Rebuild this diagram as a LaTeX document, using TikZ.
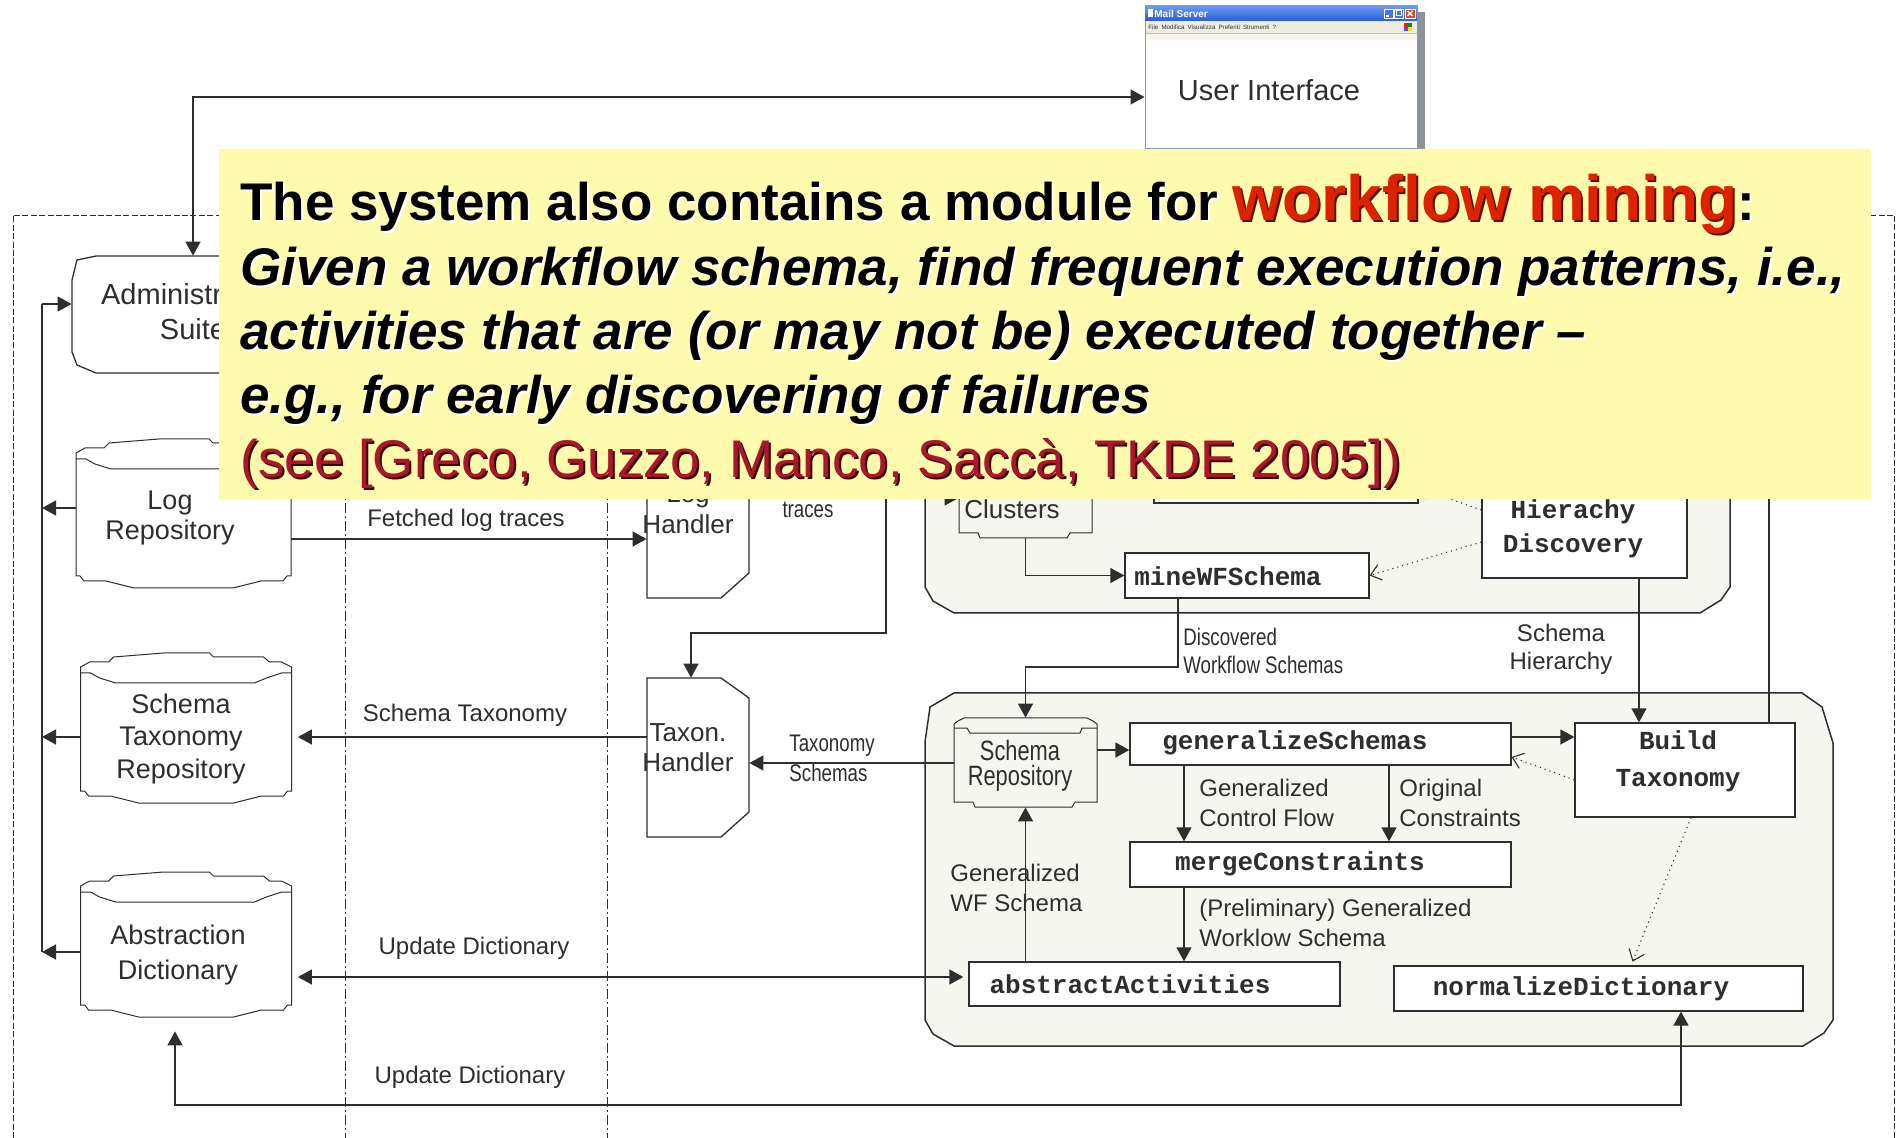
\documentclass[tikz,border=0pt]{standalone}
\usepackage{fontspec}
\setmainfont{Liberation Sans}
\newfontfamily\narrowsans[FakeStretch=0.78]{Liberation Sans}
\newfontfamily\codefont{Liberation Mono}
\usetikzlibrary{arrows.meta,fit,calc}

\definecolor{ink}{HTML}{2E2E2E}
\definecolor{panel}{HTML}{F6F6F1}
\definecolor{note}{HTML}{FFFBAE}
\definecolor{hot}{HTML}{DD2200}
\definecolor{hotshade}{HTML}{5A1000}
\definecolor{cite}{HTML}{A8182A}
\definecolor{citeshade}{HTML}{3A0008}
\definecolor{xpblue}{HTML}{2A5CD6}
\definecolor{xplight}{HTML}{6A9AF2}
\definecolor{xpbeige}{HTML}{EEEBDF}
\definecolor{xpframe}{HTML}{7F9DB9}
\definecolor{xpred}{HTML}{DD4A22}
\definecolor{winshadow}{HTML}{8E939B}

% stored-data shape with a tall cap (repositories on the left)
\newcommand\bigstore[5]{%
  \path[draw=ink, line width=0.5pt, fill=white]
    ({#2},{#3+14}) -- ({#2+9},{#3+9}) -- ({#2+28},{#3+9}) -- ({#2+33},{#3+4})
    -- ({#2+83},{#3}) -- ({#4-82},{#3}) -- ({#4-78},{#3+4}) -- ({#4-28},{#3+4})
    -- ({#4-22},{#3+9}) -- ({#4-10},{#3+9}) -- ({#4},{#3+14})
    -- ({#4},{#5-12}) -- ({#4-4},{#5-12}) -- ({#4-8},{#5-7}) -- ({#4-30},{#5-7})
    -- ({#4-58},{#5}) -- ({#2+58},{#5}) -- ({#2+30},{#5-7}) -- ({#2+8},{#5-7})
    -- ({#2+4},{#5-12}) -- ({#2},{#5-12}) -- cycle;
  \draw[ink, line width=0.5pt] ({#2},{#3+20}) -- ({#2+10},{#3+20}) -- ({#2+19},{#3+25})
    -- ({#2+35},{#3+30}) -- ({#4-37},{#3+30}) -- ({#4-25},{#3+25}) -- ({#4-10},{#3+20}) -- ({#4},{#3+20});
  \node[fit={({#2},{#3}) ({#4},{#5})}, inner sep=0pt] (#1) {};}

% stored-data shape with a flat cap (repositories inside the modules)
\newcommand\smallstore[5]{%
  \path[draw=ink, line width=0.5pt, fill=panel]
    ({#2},{#3+6}) -- ({#2+4},{#3+3}) -- ({#2+10},{#3}) -- ({#4-10},{#3}) -- ({#4-4},{#3+3})
    -- ({#4},{#3+6}) -- ({#4},{#5-5}) -- ({#4-22},{#5-5}) -- ({#4-25},{#5})
    -- ({#2+21},{#5}) -- ({#2+19},{#5-5}) -- ({#2},{#5-5}) -- cycle;
  \draw[ink, line width=0.5pt] ({#2},{#3+10}) -- ({#2+13},{#3+10}) -- ({#2+16},{#3+15})
    -- ({#4-17},{#3+15}) -- ({#4-15},{#3+10}) -- ({#4},{#3+10});
  \node[fit={({#2},{#3}) ({#4},{#5})}, inner sep=0pt] (#1) {};}

% handler shape: rectangle with the right corners cut
\newcommand\handler[5]{%
  \path[draw=ink, line width=0.65pt, fill=white]
    ({#2},{#3}) -- ({#4-28},{#3}) -- ({#4},{#3+20}) -- ({#4},{#5-25})
    -- ({#4-28},{#5}) -- ({#2},{#5}) -- cycle;
  \node[fit={({#2},{#3}) ({#4},{#5})}, inner sep=0pt] (#1) {};}

% module container with clipped corners
\newcommand\module[4]{%
  \path[draw=ink, line width=0.75pt, fill=panel]
    ({#1+29},{#2}) -- ({#3-31},{#2}) -- ({#3-11},{#2+14}) -- ({#3},{#2+50})
    -- ({#3},{#4-26}) -- ({#3-9},{#4-13}) -- ({#3-30},{#4}) -- ({#1+29},{#4})
    -- ({#1+8},{#4-12}) -- ({#1},{#4-26}) -- ({#1},{#2+49}) -- ({#1+5},{#2+14}) -- cycle;}

\newcommand\lineone[2]{\textcolor{#1}{The system also contains a module for }%
  \textcolor{#2}{\fontsize{32}{38}\selectfont workflow mining}\textcolor{#1}{:}}

\begin{document}
\begin{tikzpicture}[x=0.5pt, y=-0.5pt,
  >={Triangle[length=7pt,width=7.5pt]},
  wire/.style={draw=ink, line width=0.65pt},
  arr/.style={wire, ->},
  both/.style={wire, <->},
  dots/.style={draw=ink, line width=0.55pt, dotted, -{Straight Barb[length=5pt,width=8pt]}},
  frame/.style={draw=ink, line width=0.45pt, dash pattern=on 3pt off 1.2pt},
  lane/.style={draw=ink, line width=0.45pt, dash pattern=on 5pt off 1.5pt on 1pt off 1.5pt},
  box/.style={draw=ink, line width=0.65pt, fill=white, inner sep=0pt},
  lbl/.style={text=ink, inner sep=0pt, align=center, font=\fontsize{12}{15}\selectfont},
  lbln/.style={text=ink, inner sep=0pt, align=center, font=\narrowsans\fontsize{12}{14}\selectfont},
  storetxt/.style={text=ink, inner sep=0pt, align=center, font=\fontsize{13.5}{15}\selectfont},
  codetxt/.style={text=ink, inner sep=0pt, align=center, font=\codefont\bfseries\fontsize{13}{17}\selectfont},
  notetxt/.style={inner sep=0pt, anchor=base west, font=\bfseries\fontsize{26.5}{32}\selectfont},
]
\useasboundingbox (0,0) rectangle (1896,1138);
\fill[white] (0,0) rectangle (1896,1138);

% system boundary and lanes
\draw[frame] (13,1138) -- (13,215) -- (1894.5,215) -- (1894.5,1138);
\draw[lane] (345,215) -- (345,1138);
\draw[lane] (607,215) -- (607,1138);

% administration suite
\path[draw=ink, line width=0.65pt, fill=white]
  (96,256) -- (290,256) -- (309,260) -- (314,280) -- (314,352) -- (309,365)
  -- (290,373) -- (96,373) -- (77,365) -- (72,352) -- (72,280) -- (77,260) -- cycle;
\node[fit={(72,256) (314,373)}, inner sep=0pt] (admin) {};
\node[storetxt, font=\fontsize{14.5}{17.5}\selectfont] (admintxt) at (193,312) {Administration\\Suite};

% repositories
\bigstore{logrepo}{76}{439}{291}{588}
\bigstore{schematax}{80.6}{653}{291.5}{803}
\bigstore{abstractdict}{80.6}{872}{291.5}{1017}
\node[storetxt] (logrepotxt) at (170,518) {Log\\Repository};
\node[storetxt, font=\fontsize{13.5}{16.25}\selectfont] (schtaxtxt) at (181,739) {Schema\\Taxonomy\\Repository};
\node[storetxt, font=\fontsize{13.5}{17.5}\selectfont] (abdicttxt) at (178,955) {Abstraction\\Dictionary};

% handlers
\handler{loghandler}{647}{439}{749}{598}
\handler{taxhandler}{647}{678}{749}{837}
\node[storetxt, font=\fontsize{13}{15.5}\selectfont] (loghtxt) at (688,509.5) {Log\\Handler};
\node[storetxt, font=\fontsize{13}{15}\selectfont] (taxhtxt) at (688,748) {Taxon.\\Handler};

% schema discovery module
\module{925}{380}{1730}{613}
\smallstore{clusters}{959}{440}{1092}{538}
\node[storetxt, font=\fontsize{13}{15}\selectfont] (clustxt) at (1012,509) {Clusters};
\node[box, fit={(1154,430) (1418,503)}] (topbox) {};
\node[box, fit={(1482,430) (1687,578)}] (hier) {};
\node[box, fit={(1125,553) (1369,598)}] (mine) {};
\node[codetxt] (hiertxt) at (1573,529) {Hierachy\\Discovery};
\node[codetxt] (minetxt) at (1228,576) {mineWFSchema};

% taxonomy module
\module{925}{693}{1833}{1046}
\smallstore{schemarepo}{954}{718}{1097}{807}
\node[lbln, font=\narrowsans\fontsize{14}{12.5}\selectfont] (srtxt) at (1020,766) {Schema\\Repository};
\node[box, fit={(1130,723) (1511,765)}] (gen) {};
\node[box, fit={(1575,723) (1795,817)}] (buildtax) {};
\node[box, fit={(1130,842) (1511,887)}] (merge) {};
\node[box, fit={(969,962) (1340,1006)}] (abstract) {};
\node[box, fit={(1394,966) (1803,1011)}] (normdict) {};
\node[codetxt] (gentxt) at (1295,743) {generalizeSchemas};
\node[codetxt, font=\codefont\bfseries\fontsize{13}{18.5}\selectfont] (btxt) at (1678,761.5) {Build\\Taxonomy};
\node[codetxt] (mergetxt) at (1300,864) {mergeConstraints};
\node[codetxt] (abstxt) at (1130,984) {abstractActivities};
\node[codetxt] (normtxt) at (1581,989) {normalizeDictionary};

% administration bus on the left
\coordinate (bustop) at (42,304);
\coordinate (busbot) at (42,952);
\draw[wire] (busbot) -- (bustop);
\draw[arr] (bustop) -- (bustop -| admin.west);
\draw[arr] (logrepo.west |- 0,508) -- (bustop |- 0,508);
\draw[arr] (schematax.west |- 0,737) -- (bustop |- 0,737);
\draw[arr] (abstractdict.west |- 0,952) -- (busbot);

% user interface window
\fill[winshadow] (1413,12) rectangle (1425,149);
\node[fit={(1145,6) (1417,149)}, inner sep=0pt, draw=xpframe, fill=white, line width=0.5pt] (ui) {};
\shade[top color=xplight, bottom color=xpblue] (1145,6) rectangle (1417,21);
\fill[xpbeige] (1145.5,21) rectangle (1416.5,33);
\fill[xpbeige!55] (1145.5,33) rectangle (1416.5,40);
\draw[black!25, line width=0.3pt] (1145.5,33) -- (1416.5,33);
\fill[white] (1147.5,9.5) rectangle (1152.5,17);
\node[inner sep=0pt, anchor=west, text=white, font=\bfseries\fontsize{5}{6}\selectfont] (uititle) at (1154,13.5) {Mail Server};
\draw[white, fill=xpblue!85, line width=0.3pt] (1384,9) rectangle (1393,18);
\draw[white, line width=0.6pt] (1386,16) -- (1389,16);
\draw[white, fill=xpblue!85, line width=0.3pt] (1394.5,9) rectangle (1403.5,18);
\draw[white, line width=0.5pt] (1396.5,11) rectangle (1401.5,16);
\draw[white, fill=xpred, line width=0.3pt] (1405,9) rectangle (1415,18);
\draw[white, line width=0.7pt] (1407.5,11) -- (1412.5,16) (1407.5,16) -- (1412.5,11);
\node[inner sep=0pt, anchor=west, text=black!80, font=\fontsize{3.1}{4}\selectfont] (uimenu) at (1148,27)
  {File\enspace Modifica\enspace Visualizza\enspace Preferiti\enspace Strumenti\enspace ?};
\fill[red!80!orange] (1404,23) rectangle (1408,27);
\fill[green!60!black] (1408,23) rectangle (1412,27);
\fill[blue!70] (1404,27) rectangle (1408,31);
\fill[yellow!90!orange] (1408,27) rectangle (1412,31);
\node[text=ink, inner sep=0pt, font=\fontsize{14.5}{16}\selectfont] (uitxt) at (1269,90) {User Interface};

% connectors
\draw[both] (admin.north) |- ($(ui.west)+(0,19.5)$);
\draw[arr] (logrepo.east |- 0,539) -- (loghandler.west |- 0,539);
\coordinate (trsrc) at (886,470);
\coordinate (trbend) at (691,633);
\draw[arr] (trsrc) |- (trbend) -- (trbend |- taxhandler.north);
\draw[arr, shorten >=3pt] (taxhandler.west |- 0,737) -- (schematax.east |- 0,737);
\draw[arr] (schemarepo.west |- 0,763) -- (taxhandler.east |- 0,763);
\draw[both, shorten <=3pt, shorten >=2.5pt] (abstractdict.east |- 0,977) -- (abstract.west |- 0,977);
\coordinate (udl) at (175,1105);
\coordinate (udr) at (1681,1105);
\draw[both, shorten <=7pt] (abstractdict.south -| udl) -- (udl) -- (udr) -- (normdict.south -| udr);

\coordinate (clin) at (925,498);
\draw[arr] (clin) -- (clin -| clusters.west);
\draw[arr] (clusters.south) |- (mine.west);
\draw[dots] (hier.west |- 0,542) -- (mine.east);
\draw[dots] (hier.west |- 0,510) -- (topbox.east |- 0,488);
\coordinate (dwbend) at (1178,667);
\draw[arr] (mine.south -| dwbend) -- (dwbend) -| (schemarepo.north);
\draw[arr] (hier.south -| 1639,0) -- (buildtax.north -| 1639,0);
\coordinate (rtop) at (1769,470);
\draw[wire] (buildtax.north -| rtop) -- (rtop);

\draw[arr] (schemarepo.east |- 0,750) -- (gen.west |- 0,750);
\draw[arr] (gen.east |- 0,737) -- (buildtax.west |- 0,737);
\draw[dots] (buildtax.west |- 0,780) -- (gen.east |- 0,757);
\draw[arr] (gen.south -| 1184,0) -- (merge.north -| 1184,0);
\draw[arr] (gen.south -| 1389,0) -- (merge.north -| 1389,0);
\draw[arr] (merge.south -| 1184,0) -- (abstract.north -| 1184,0);
\draw[arr] (abstract.north -| schemarepo.south) -- (schemarepo.south);
\draw[dots, shorten >=2pt] (buildtax.south -| 1691,0) -- (normdict.north -| 1631,0);

% connector labels
\node[lbl] (lblfetch) at (466,520) {Fetched log traces};
\node[lbln] (lbltraces) at (808,510) {traces};
\node[lbl] (lblschtax) at (465,715) {Schema Taxonomy};
\node[lbln, anchor=west, align=left, font=\narrowsans\fontsize{12}{15}\selectfont] (lbltaxsch) at (789,758) {Taxonomy\\Schemas};
\node[lbl] (lblupd1) at (474,948) {Update Dictionary};
\node[lbl] (lblupd2) at (470,1077) {Update Dictionary};
\node[lbln, anchor=west, align=left] (lbldisc) at (1183,651) {Discovered\\Workflow Schemas};
\node[lbl, font=\fontsize{12}{14}\selectfont] (lblhier) at (1561,649) {Schema\\Hierarchy};
\node[lbl, anchor=west, align=left] (lblgcf) at (1199,803) {Generalized\\Control Flow};
\node[lbl, anchor=west, align=left] (lblorig) at (1399,803) {Original\\Constraints};
\node[lbl, anchor=west, align=left] (lblgwf) at (950,888) {Generalized\\WF Schema};
\node[lbl, anchor=west, align=left] (lblprelim) at (1199,923) {(Preliminary) Generalized\\Worklow Schema};

% callout note
\fill[note] (219,149) rectangle (1871,499);
\node[notetxt, text=white] (n1s) at (242,223) {\lineone{white}{hotshade}};
\node[notetxt] (n1) at (240,221) {\lineone{black}{hot}};
\node[notetxt, text=white, font=\bfseries\itshape\fontsize{26.5}{32}\selectfont] (n2s) at (242,288)
  {Given a workflow schema, find frequent execution patterns, i.e.,};
\node[notetxt, text=black, font=\bfseries\itshape\fontsize{26.5}{32}\selectfont] (n2) at (240,286)
  {Given a workflow schema, find frequent execution patterns, i.e.,};
\node[notetxt, text=white, font=\bfseries\itshape\fontsize{26.5}{32}\selectfont] (n3s) at (242,352)
  {activities that are (or may not be) executed together --};
\node[notetxt, text=black, font=\bfseries\itshape\fontsize{26.5}{32}\selectfont] (n3) at (240,350)
  {activities that are (or may not be) executed together --};
\node[notetxt, text=white, font=\bfseries\itshape\fontsize{26.5}{32}\selectfont] (n4s) at (242,416)
  {e.g., for early discovering of failures};
\node[notetxt, text=black, font=\bfseries\itshape\fontsize{26.5}{32}\selectfont] (n4) at (240,414)
  {e.g., for early discovering of failures};
\node[notetxt, text=citeshade, font=\fontsize{26.5}{32}\selectfont] (n5s) at (242,480)
  {(see [Greco, Guzzo, Manco, Saccà, TKDE 2005])};
\node[notetxt, text=cite, font=\fontsize{26.5}{32}\selectfont] (n5) at (240,478)
  {(see [Greco, Guzzo, Manco, Saccà, TKDE 2005])};
\end{tikzpicture}
\end{document}
